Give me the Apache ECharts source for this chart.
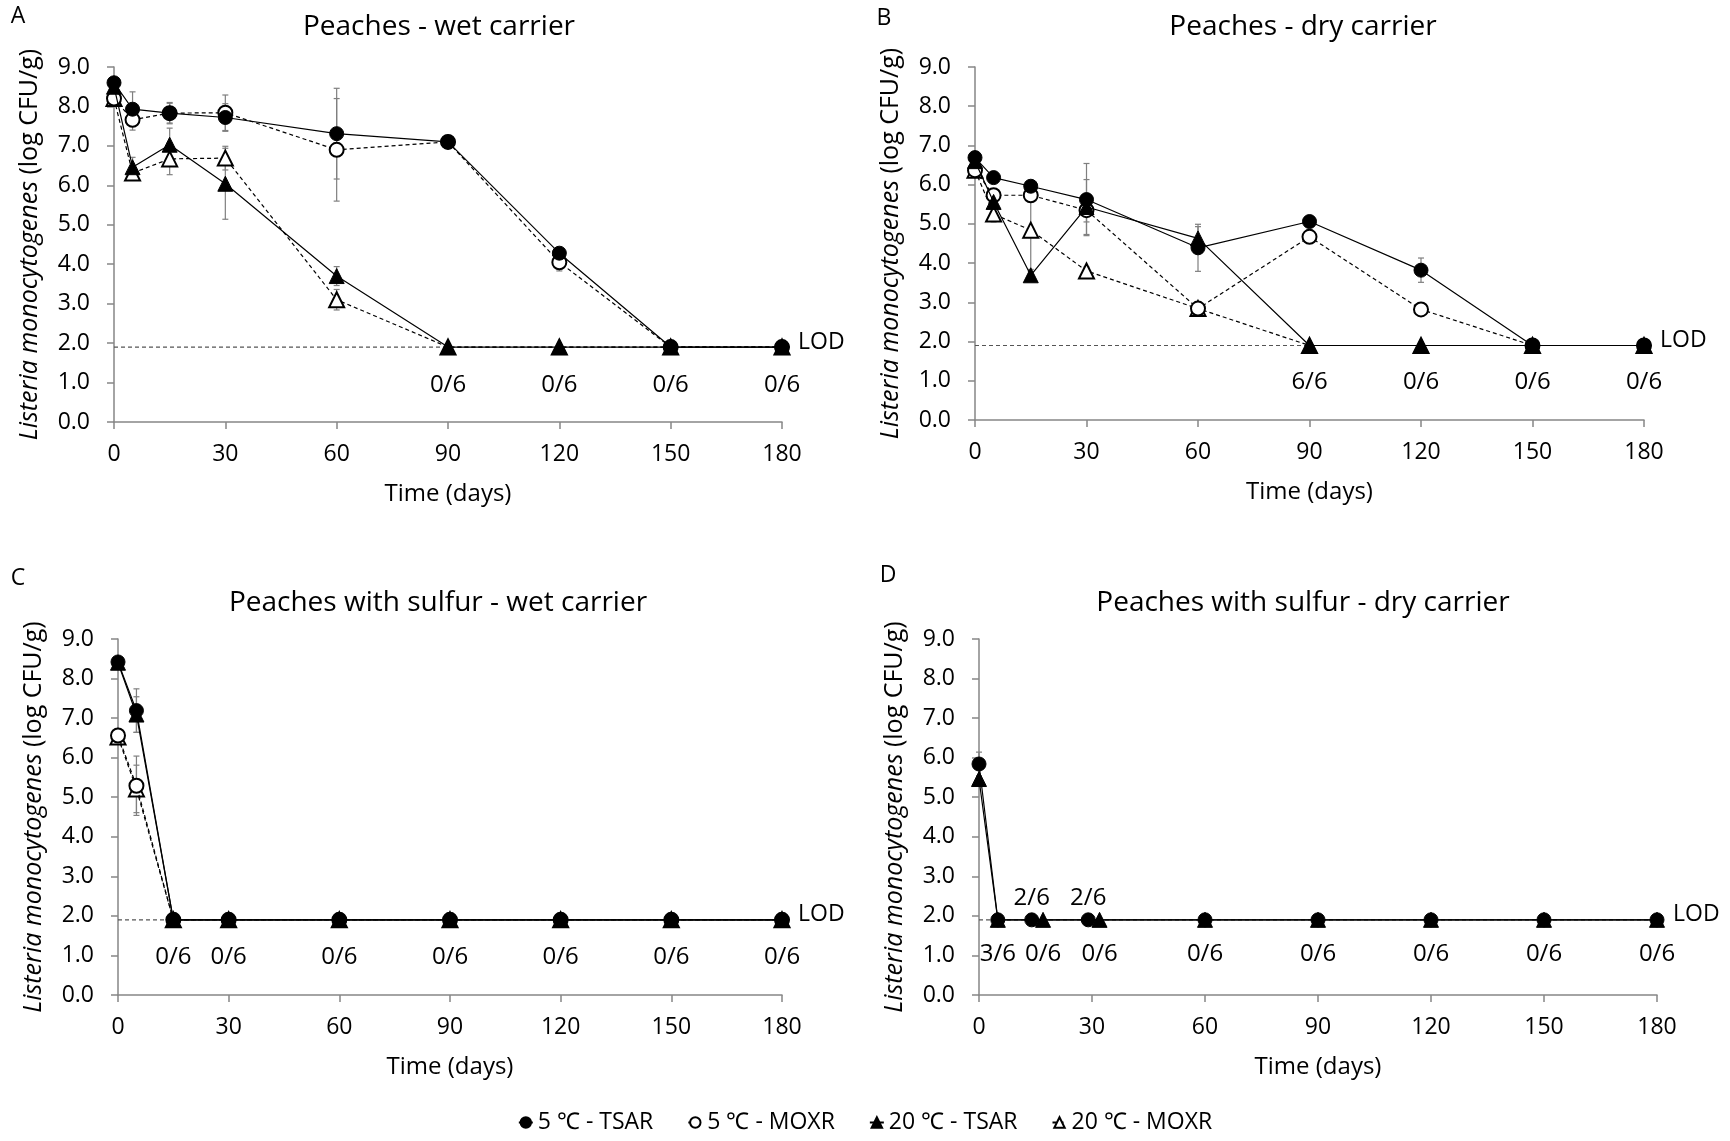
<!DOCTYPE html>
<html lang="en">
<head>
<meta charset="utf-8">
<script src="https://cdn.jsdelivr.net/npm/echarts@6/dist/echarts.min.js"></script>
</head>
<body style="margin:0;background:#fff">
<div id="main" style="width:1730px;height:1141px"></div>
<script type="text/javascript">
// sampling days
var days = [0, 5, 15, 30, 60, 90, 120, 150, 180];
var daysD5 = [0, 5, 14, 29, 60, 90, 120, 150, 180];
var daysD20 = [0, 5, 17, 32, 60, 90, 120, 150, 180];
var LOD = 1.9;

// A - peaches, wet carrier
var tsar5A = [8.6, 7.93, 7.83, 7.72, 7.31, 7.1, 4.28, 1.9, 1.9];
var moxr5A = [8.2, 7.66, 7.83, 7.84, 6.9, 7.1, 4.05, 1.9, 1.9];
var tsar20A = [8.5, 6.46, 7.03, 6.04, 3.7, 1.9, 1.9, 1.9, 1.9];
var moxr20A = [8.2, 6.31, 6.67, 6.69, 3.1, 1.9, 1.9, 1.9, 1.9];
var tsar5A_sd = [0.1, 0.44, 0.27, 0.35, 1.15, 0.05, 0.1, 0, 0];
var moxr5A_sd = [0.1, 0.26, 0.25, 0.45, 1.3, 0.05, 0.22, 0, 0];
var tsar20A_sd = [0, 0.25, 0.42, 0.9, 0.24, 0, 0, 0, 0];
var moxr20A_sd = [0.1, 0.15, 0.4, 0.3, 0.26, 0, 0, 0, 0];
var countsA = [[90, '0/6'], [120, '0/6'], [150, '0/6'], [180, '0/6']];

// B - peaches, dry carrier
var tsar5B = [6.69, 6.18, 5.96, 5.62, 4.39, 5.06, 3.82, 1.9, 1.9];
var moxr5B = [6.37, 5.73, 5.73, 5.35, 2.84, 4.67, 2.82, 1.9, 1.9];
var tsar20B = [6.6, 5.56, 3.69, 5.43, 4.63, 1.9, 1.9, 1.9, 1.9];
var moxr20B = [6.37, 5.25, 4.84, 3.8, 2.84, 1.9, 1.9, 1.9, 1.9];
var tsar5B_sd = [0.05, 0.05, 0.05, 0.92, 0.6, 0.05, 0.31, 0, 0];
var moxr5B_sd = [0.05, 0.05, 0.1, 0.3, 0.1, 0.05, 0.05, 0, 0];
var tsar20B_sd = [0.05, 0.1, 0.1, 0.7, 0.3, 0, 0, 0, 0];
var moxr20B_sd = [0.05, 0.2, 1.0, 0.1, 0.1, 0, 0, 0, 0];
var countsB = [[90, '6/6'], [120, '0/6'], [150, '0/6'], [180, '0/6']];

// C - peaches with sulfur, wet carrier
var tsar5C = [8.42, 7.19, 1.9, 1.9, 1.9, 1.9, 1.9, 1.9, 1.9];
var moxr5C = [6.56, 5.29, 1.9, 1.9, 1.9, 1.9, 1.9, 1.9, 1.9];
var tsar20C = [8.4, 7.09, 1.9, 1.9, 1.9, 1.9, 1.9, 1.9, 1.9];
var moxr20C = [6.52, 5.21, 1.9, 1.9, 1.9, 1.9, 1.9, 1.9, 1.9];
var tsar5C_sd = [0.05, 0.55, 0, 0, 0, 0, 0, 0, 0];
var moxr5C_sd = [0.05, 0.75, 0, 0, 0, 0, 0, 0, 0];
var tsar20C_sd = [0.05, 0.45, 0, 0, 0, 0, 0, 0, 0];
var moxr20C_sd = [0.05, 0.6, 0, 0, 0, 0, 0, 0, 0];
var countsC = [[15, '0/6'], [30, '0/6'], [60, '0/6'], [90, '0/6'], [120, '0/6'], [150, '0/6'], [180, '0/6']];

// D - peaches with sulfur, dry carrier
var tsar5D = [5.84, 1.9, 1.9, 1.9, 1.9, 1.9, 1.9, 1.9, 1.9];
var tsar20D = [5.46, 1.9, 1.9, 1.9, 1.9, 1.9, 1.9, 1.9, 1.9];
var tsar5D_sd = [0.3, 0, 0, 0, 0, 0, 0, 0, 0];
var countsD = [[5, '3/6', 'below'], [14, '2/6', 'above'], [17, '0/6', 'below'], [29, '2/6', 'above'],
    [32, '0/6', 'below'], [60, '0/6', 'below'], [90, '0/6', 'below'], [120, '0/6', 'below'],
    [150, '0/6', 'below'], [180, '0/6', 'below']];

var names = ['5 ℃ - TSAR', '5 ℃ - MOXR', '20 ℃ - TSAR', '20 ℃ - MOXR'];
var titles = ['Peaches - wet carrier', 'Peaches - dry carrier',
    'Peaches with sulfur - wet carrier', 'Peaches with sulfur - dry carrier'];
var letters = ['A', 'B', 'C', 'D'];

var FONT = 'Open Sans';
var myChart = echarts.init(document.getElementById('main'));

var grids = [
    {left: 114, top: 67, width: 668, height: 355},
    {left: 975, top: 67, width: 669, height: 353},
    {left: 118, top: 639, width: 664, height: 356},
    {left: 979, top: 639, width: 678, height: 356}
];

function lineSeries(gi, nameIdx, xs, ys) {
    var moxr = nameIdx === 1 || nameIdx === 3;
    var sym = ['circle', 'emptyCircle', 'triangle', 'emptyTriangle'][nameIdx];
    return {
        name: names[nameIdx], type: 'line', xAxisIndex: gi, yAxisIndex: gi,
        data: xs.map(function (d, i) { return [d, ys[i]]; }),
        symbol: sym, symbolSize: nameIdx >= 2 ? 15 : 14,
        lineStyle: {color: '#000', width: 1.2, type: moxr ? [4, 3] : 'solid'},
        itemStyle: {color: '#000', borderColor: '#000', borderWidth: 1},
        z: 3 + (moxr ? 0 : 2) + (nameIdx < 2 ? 1 : 0)
    };
}

function errSeries(gi, xs, ys, sd) {
    var data = [];
    xs.forEach(function (d, i) {
        if (sd[i] > 0) data.push([d, ys[i] - sd[i], ys[i] + sd[i]]);
    });
    return {
        type: 'custom', name: 'err', xAxisIndex: gi, yAxisIndex: gi, z: 2, silent: true,
        data: data,
        renderItem: function (params, api) {
            var x = api.value(0);
            var p1 = api.coord([x, api.value(1)]);
            var p2 = api.coord([x, api.value(2)]);
            var st = {stroke: '#7f7f7f', lineWidth: 1.2};
            return {type: 'group', children: [
                {type: 'line', shape: {x1: p1[0], y1: p1[1], x2: p2[0], y2: p2[1]}, style: st},
                {type: 'line', shape: {x1: p1[0] - 3, y1: p1[1], x2: p1[0] + 3, y2: p1[1]}, style: st},
                {type: 'line', shape: {x1: p2[0] - 3, y1: p2[1], x2: p2[0] + 3, y2: p2[1]}, style: st}
            ]};
        }
    };
}

function lodSeries(gi) {
    return {
        type: 'line', name: 'lod', xAxisIndex: gi, yAxisIndex: gi, silent: true, z: 1,
        data: [[0, LOD], [180, LOD]], symbol: 'none',
        lineStyle: {color: '#555', width: 1.2, type: [4, 3]},
        markPoint: {
            symbol: 'circle', symbolSize: 0, silent: true,
            data: [{coord: [180, LOD], name: 'LOD'}],
            label: {show: true, formatter: 'LOD', position: 'right', distance: 16, offset: [0, -5],
                color: '#000', fontSize: 23, fontFamily: FONT}
        }
    };
}

function countSeries(gi, counts, below, above) {
    return {
        type: 'scatter', name: 'counts', xAxisIndex: gi, yAxisIndex: gi, silent: true, z: 6,
        symbolSize: 0, itemStyle: {color: 'rgba(0,0,0,0)', opacity: 1},
        data: counts.map(function (c) {
            var up = c[2] === 'above';
            return {value: [c[0], LOD], name: c[1],
                label: {position: up ? 'top' : 'bottom', distance: up ? above : below}};
        }),
        label: {show: true, formatter: '{b}', color: '#000', fontSize: 24, fontFamily: FONT}
    };
}

var xAxes = [], yAxes = [], series = [], graphics = [];
grids.forEach(function (g, gi) {
    xAxes.push({
        type: 'value', gridIndex: gi, min: 0, max: 180, interval: 30,
        name: 'Time (days)', nameLocation: 'middle', nameGap: 60,
        nameTextStyle: {color: '#000', fontSize: 24, fontFamily: FONT},
        axisLine: {onZero: false, lineStyle: {color: '#868686', width: 1.5}},
        axisTick: {show: true, length: 7, lineStyle: {color: '#868686', width: 1.5}},
        axisLabel: {color: '#000', fontSize: 23, fontFamily: FONT, margin: 21},
        splitLine: {show: false}
    });
    yAxes.push({
        type: 'value', gridIndex: gi, min: 0, max: 9, interval: 1,
        name: '{i|Listeria monocytogenes} (log CFU/g)', nameLocation: 'middle', nameGap: 72,
        nameTextStyle: {color: '#000', fontSize: 25, fontFamily: FONT,
            rich: {i: {fontStyle: 'italic', fontSize: 25, fontFamily: FONT, color: '#000'}}},
        axisLine: {show: true, lineStyle: {color: '#868686', width: 1.5}},
        axisTick: {show: true, length: 7, lineStyle: {color: '#868686', width: 1.5}},
        axisLabel: {color: '#000', fontSize: 23, fontFamily: FONT, margin: 24,
            formatter: function (v) { return v.toFixed(1); }},
        splitLine: {show: false}
    });
    series.push(lodSeries(gi));
});

// panel A
series.push(errSeries(0, days, tsar5A, tsar5A_sd), errSeries(0, days, moxr5A, moxr5A_sd),
    errSeries(0, days, tsar20A, tsar20A_sd), errSeries(0, days, moxr20A, moxr20A_sd));
series.push(lineSeries(0, 3, days, moxr20A), lineSeries(0, 1, days, moxr5A),
    lineSeries(0, 2, days, tsar20A), lineSeries(0, 0, days, tsar5A));
series.push(countSeries(0, countsA, 26, 12));
// panel B
series.push(errSeries(1, days, tsar5B, tsar5B_sd), errSeries(1, days, moxr5B, moxr5B_sd),
    errSeries(1, days, tsar20B, tsar20B_sd), errSeries(1, days, moxr20B, moxr20B_sd));
series.push(lineSeries(1, 3, days, moxr20B), lineSeries(1, 1, days, moxr5B),
    lineSeries(1, 2, days, tsar20B), lineSeries(1, 0, days, tsar5B));
series.push(countSeries(1, countsB, 25, 12));
// panel C
series.push(errSeries(2, days, tsar5C, tsar5C_sd), errSeries(2, days, moxr5C, moxr5C_sd),
    errSeries(2, days, tsar20C, tsar20C_sd), errSeries(2, days, moxr20C, moxr20C_sd));
series.push(lineSeries(2, 3, days, moxr20C), lineSeries(2, 1, days, moxr5C),
    lineSeries(2, 2, days, tsar20C), lineSeries(2, 0, days, tsar5C));
series.push(countSeries(2, countsC, 25, 12));
// panel D
series.push(errSeries(3, daysD5, tsar5D, tsar5D_sd));
series.push(lineSeries(3, 2, daysD20, tsar20D), lineSeries(3, 0, daysD5, tsar5D));
series.push(countSeries(3, countsD, 22, 10));

// titles and panel letters
var titlePos = [[439, 27], [1303, 27], [438, 603], [1303, 603]];
var letterPos = [[18, 16], [884, 18], [18, 578], [888, 575]];
grids.forEach(function (g, gi) {
    graphics.push({type: 'text', x: titlePos[gi][0], y: titlePos[gi][1],
        style: {text: titles[gi], fill: '#000', font: '28px "Open Sans"', align: 'center', verticalAlign: 'middle'}});
    graphics.push({type: 'text', x: letterPos[gi][0], y: letterPos[gi][1],
        style: {text: letters[gi], fill: '#000', font: '23px "Open Sans"', align: 'center', verticalAlign: 'middle'}});
});

var option = {
    backgroundColor: '#fff',
    animation: false,
    grid: grids,
    xAxis: xAxes,
    yAxis: yAxes,
    legend: {
        data: names, bottom: 2, left: 'center', itemGap: 34, itemWidth: 14, itemHeight: 13,
        textStyle: {color: '#000', fontSize: 23, fontFamily: FONT}
    },
    graphic: graphics,
    series: series
};
myChart.setOption(option);
</script>
</body>
</html>
